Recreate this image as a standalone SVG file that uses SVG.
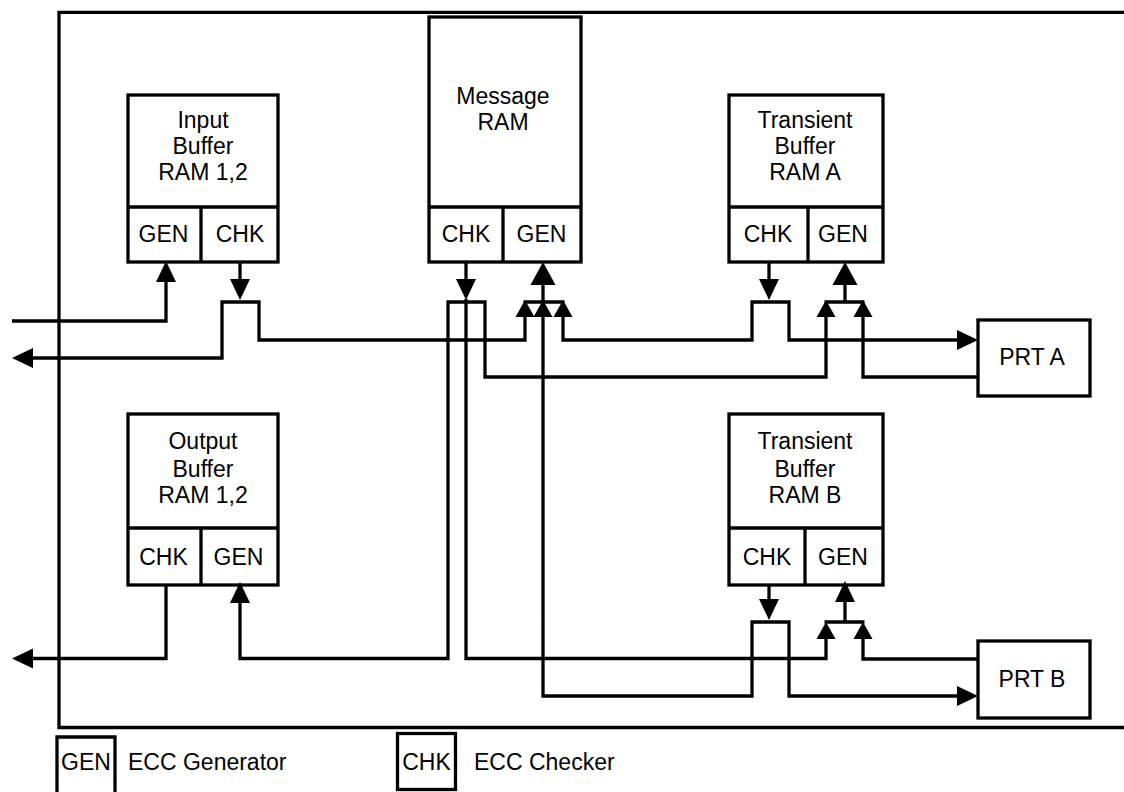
<svg xmlns="http://www.w3.org/2000/svg" width="1124" height="792" viewBox="0 0 1124 792">
<style>
.box{fill:#fff;stroke:#000;stroke-width:3.3}
.ln{fill:none;stroke:#000;stroke-width:3.3}
.w{fill:none;stroke:#000;stroke-width:3.3}
text{font-family:"Liberation Sans",Arial,sans-serif;font-size:23px;fill:#000;text-anchor:middle}
.lt{text-anchor:start}
</style>
<defs>
<marker id="a" markerUnits="userSpaceOnUse" viewBox="0 -11 22 22" markerWidth="22" markerHeight="22" refX="0" refY="0" orient="auto-start-reverse"><path d="M0,-10 L21,0 L0,10 z" fill="#000"/></marker>
<marker id="s" markerUnits="userSpaceOnUse" viewBox="0 -10 18 20" markerWidth="18" markerHeight="20" refX="0" refY="0" orient="auto-start-reverse"><path d="M0,-9.5 L17,0 L0,9.5 z" fill="#000"/></marker>
<marker id="b" markerUnits="userSpaceOnUse" viewBox="0 -13 24 26" markerWidth="24" markerHeight="26" refX="0" refY="0" orient="auto-start-reverse"><path d="M0,-12.5 L23,0 L0,12.5 z" fill="#000"/></marker>
</defs>
<rect width="1124" height="792" fill="#fff"/>
<g id="frame"><path class="w" d="M1124,12.3 H59 V727.5 H1124"/></g>

<g id="input-buffer">
<rect class="box" x="128" y="95" width="150" height="167"/>
<path class="ln" d="M128,207 H278 M201,207 V262"/>
<text x="203" y="128">Input</text><text x="203" y="154">Buffer</text><text x="203" y="180">RAM 1,2</text>
<text x="163.5" y="242">GEN</text><text x="240" y="242">CHK</text>
</g>

<g id="message-ram">
<rect class="box" x="429" y="17" width="152" height="245"/>
<path class="ln" d="M429,207 H581 M503,207 V262"/>
<text x="503" y="104">Message</text><text x="503" y="130">RAM</text>
<text x="466" y="242">CHK</text><text x="541.5" y="242">GEN</text>
</g>

<g id="transient-a">
<rect class="box" x="729" y="95" width="154" height="167"/>
<path class="ln" d="M729,207 H883 M808,207 V262"/>
<text x="805" y="128">Transient</text><text x="805" y="154">Buffer</text><text x="805" y="180">RAM A</text>
<text x="768" y="242">CHK</text><text x="843" y="242">GEN</text>
</g>

<g id="prt-a">
<rect class="box" x="978" y="320" width="112" height="76"/>
<text x="1032" y="365">PRT A</text>
</g>

<g id="output-buffer">
<rect class="box" x="128" y="414" width="150" height="171"/>
<path class="ln" d="M128,528 H278 M201,528 V585"/>
<text x="203" y="449">Output</text><text x="203" y="477">Buffer</text><text x="203" y="503">RAM 1,2</text>
<text x="163.5" y="565">CHK</text><text x="238.5" y="565">GEN</text>
</g>

<g id="transient-b">
<rect class="box" x="729" y="414" width="154" height="171"/>
<path class="ln" d="M729,528 H883 M805,528 V585"/>
<text x="805" y="449">Transient</text><text x="805" y="477">Buffer</text><text x="805" y="503">RAM B</text>
<text x="767" y="565">CHK</text><text x="843" y="565">GEN</text>
</g>

<g id="prt-b">
<rect class="box" x="978" y="641" width="112" height="77"/>
<text x="1032" y="687">PRT B</text>
</g>

<g id="connectors">
<path class="ln" d="M12,321 H166 V282" marker-end="url(#a)"/>
<path class="ln" d="M240,262 V279" marker-end="url(#a)"/>
<path class="ln" d="M33,358 H222 V302 H259 V340 H525 V317" marker-start="url(#a)" marker-end="url(#s)"/>
<path class="ln" d="M466,262 V279" marker-end="url(#a)"/>
<path class="ln" d="M466,299 V658.5 H826 V639" marker-end="url(#s)"/>
<path class="ln" d="M240,603 V658.5 H448 V302 H485 V377 H826 V317" marker-start="url(#a)" marker-end="url(#s)"/>
<path class="ln" d="M543,302 V285" marker-end="url(#b)"/>
<path class="ln" d="M523.5,302 H564.5"/>
<path class="ln" d="M543,317 V696 H752 V622 H789 V696 H957" marker-start="url(#s)" marker-end="url(#a)"/>
<path class="ln" d="M563,317 V340 H752 V302 H789 V340 H957" marker-start="url(#s)" marker-end="url(#a)"/>
<path class="ln" d="M769,262 V279" marker-end="url(#a)"/>
<path class="ln" d="M845,302 V285" marker-end="url(#b)"/>
<path class="ln" d="M824.5,302 H864.5"/>
<path class="ln" d="M978,377 H863 V317" marker-end="url(#s)"/>
<path class="ln" d="M769,585 V599" marker-end="url(#a)"/>
<path class="ln" d="M845,622 V602" marker-end="url(#a)"/>
<path class="ln" d="M824.5,622 H864.5"/>
<path class="ln" d="M978,659 H863 V639" marker-end="url(#s)"/>
<path class="ln" d="M166,585 V658.5 H33" marker-end="url(#a)"/>
</g>

<g id="legend">
<path class="w" d="M57,800 V737 H115 V800"/>
<text x="86" y="770">GEN</text>
<text class="lt" x="128" y="770">ECC Generator</text>
<rect class="box" x="397.5" y="733.5" width="58" height="56"/>
<text x="426.5" y="770">CHK</text>
<text class="lt" x="474" y="770">ECC Checker</text>
</g>
</svg>
